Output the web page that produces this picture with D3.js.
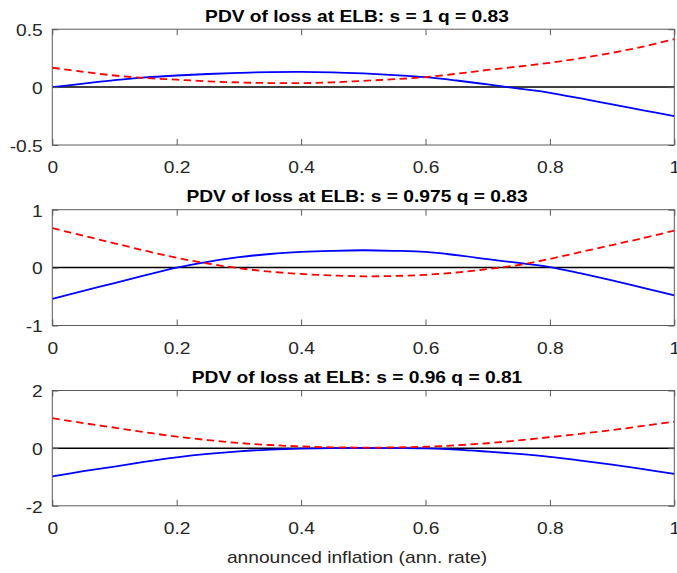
<!DOCTYPE html>
<html>
<head>
<meta charset="utf-8">
<script src="https://cdn.jsdelivr.net/npm/d3@7"></script>
<style>
  html, body { margin: 0; padding: 0; background: #fff; }
  svg { display: block; }
  text { font-family: "Liberation Sans", Arial, Helvetica, sans-serif; }
</style>
</head>
<body>
<svg id="chart" width="677" height="573"></svg>
<script>
// ---------- data ----------
const xGrid = [0,0.05,0.1,0.15,0.2,0.25,0.3,0.35,0.4,0.45,0.5,0.55,0.6,0.65,0.7,0.75,0.8,0.85,0.9,0.95,1];
const xTicks = [0,0.2,0.4,0.6,0.8,1];

const titles = [
  "PDV of loss at ELB: s = 1 q = 0.83",
  "PDV of loss at ELB: s = 0.975 q = 0.83",
  "PDV of loss at ELB: s = 0.96 q = 0.81"
];
const yDomains = [[-0.5,0.5],[-1,1],[-2,2]];
const yTicks = [[-0.5,0,0.5],[-1,0,1],[-2,0,2]];

const blue1 = [0,0.03,0.06,0.084,0.1,0.113,0.123,0.13,0.132,0.128,0.118,0.104,0.086,0.057,0.023,-0.013,-0.049,-0.098,-0.15,-0.2,-0.25];
const red1  = [0.167,0.132,0.1,0.078,0.064,0.05,0.04,0.035,0.034,0.041,0.054,0.068,0.086,0.115,0.148,0.178,0.21,0.25,0.296,0.35,0.414];

const blue2 = [-0.54,-0.4,-0.27,-0.13,0,0.1,0.18,0.235,0.27,0.29,0.3,0.29,0.27,0.215,0.146,0.08,0.01,-0.1,-0.22,-0.35,-0.48];
const red2  = [0.68,0.55,0.42,0.29,0.17,0.07,-0.01,-0.07,-0.11,-0.135,-0.15,-0.145,-0.125,-0.085,-0.025,0.045,0.15,0.27,0.39,0.51,0.64];

const blue3 = [-0.98,-0.8,-0.64,-0.47,-0.32,-0.2,-0.11,-0.05,-0.015,0,0.005,0,-0.01,-0.05,-0.12,-0.2,-0.3,-0.43,-0.57,-0.73,-0.89];
const red3  = [1.04,0.87,0.71,0.55,0.4,0.28,0.18,0.11,0.06,0.03,0.02,0.025,0.05,0.1,0.17,0.27,0.38,0.5,0.63,0.77,0.92];

const blueSeries = [blue1, blue2, blue3];
const redSeries = [red1, red2, red3];
const xLabel = "announced inflation (ann. rate)";

// ---------- layout ----------
const svg = d3.select("#chart");
const left = 52.3, right = 674.3;
const panels = [
  {top: 29.2, bottom: 145.0},
  {top: 209.7, bottom: 325.5},
  {top: 390.5, bottom: 505.8}
];
const SX = 1.2;      // horizontal stretch of the text
const FS = 16;       // font size
const axisColor = "#262626";
const boxColor = "#5a5a5a";

const x = d3.scaleLinear().domain([0,1]).range([left, right]);

panels.forEach((p, i) => {
  const y = d3.scaleLinear().domain(yDomains[i]).range([p.bottom, p.top]);
  const g = svg.append("g");

  // zero line
  g.append("line")
    .attr("x1", x(0)).attr("x2", x(1))
    .attr("y1", y(0)).attr("y2", y(0))
    .attr("stroke", "#000").attr("stroke-width", 1.5);

  const line = d3.line()
    .x((d, j) => x(xGrid[j]))
    .y(d => y(d))
    .curve(d3.curveCatmullRom.alpha(0.5));

  g.append("path").datum(blueSeries[i])
    .attr("d", line).attr("fill", "none")
    .attr("stroke", "#0000ff").attr("stroke-width", 1.8);

  g.append("path").datum(redSeries[i])
    .attr("d", line).attr("fill", "none")
    .attr("stroke", "#ff0000").attr("stroke-width", 1.8)
    .attr("stroke-dasharray", "7.5,4.5");

  // axes (inward ticks on all four sides)
  const fmt = d => String(d);
  const bottomAx = g.append("g").attr("transform", `translate(0,${p.bottom})`)
    .call(d3.axisBottom(x).tickValues(xTicks).tickFormat(fmt).tickSizeInner(-6).tickSizeOuter(0).tickPadding(15));
  const topAx = g.append("g").attr("transform", `translate(0,${p.top})`)
    .call(d3.axisTop(x).tickValues(xTicks).tickFormat("").tickSizeInner(-6).tickSizeOuter(0));
  const leftAx = g.append("g").attr("transform", `translate(${left},0)`)
    .call(d3.axisLeft(y).tickValues(yTicks[i]).tickFormat(fmt).tickSizeInner(-6).tickSizeOuter(0).tickPadding(9));
  const rightAx = g.append("g").attr("transform", `translate(${right},0)`)
    .call(d3.axisRight(y).tickValues(yTicks[i]).tickFormat("").tickSizeInner(-6).tickSizeOuter(0));

  [bottomAx, topAx, leftAx, rightAx].forEach(a => {
    a.select(".domain").remove();
    a.selectAll(".tick line").attr("stroke", boxColor).attr("stroke-width", 1);
  });

  bottomAx.selectAll(".tick text")
    .attr("y", 0).attr("dy", null)
    .attr("transform", `translate(0,28) scale(${SX},1)`)
    .attr("fill", axisColor).style("font-size", FS + "px");
  leftAx.selectAll(".tick text")
    .attr("x", 0).attr("dy", null).attr("y", 0)
    .attr("transform", `translate(-9.6,6.3) scale(${SX},1)`)
    .attr("fill", axisColor).style("font-size", FS + "px");
  [bottomAx, leftAx].forEach(a => a.attr("font-family", null).attr("font-size", null));

  // box
  g.append("rect")
    .attr("x", left).attr("y", p.top)
    .attr("width", right - left).attr("height", p.bottom - p.top)
    .attr("fill", "none").attr("stroke", boxColor).attr("stroke-width", 1);

  // title
  g.append("text")
    .attr("transform", `translate(357,${p.top - 7.5}) scale(${SX},1)`)
    .attr("text-anchor", "middle")
    .style("font-size", FS + "px").style("font-weight", "bold")
    .attr("fill", "#000")
    .text(titles[i]);
});

svg.append("text")
  .attr("transform", `translate(357,562.5) scale(${SX},1)`)
  .attr("text-anchor", "middle")
  .style("font-size", FS + "px")
  .attr("fill", axisColor)
  .text(xLabel);
</script>
</body>
</html>
